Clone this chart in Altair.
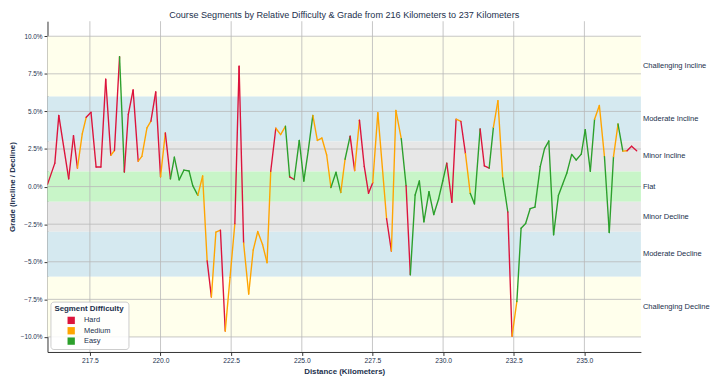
import altair as alt
import pandas as pd

# ---- data ----
distance_km = [
    216.00, 216.26, 216.40, 216.75, 216.92, 217.06, 217.23, 217.37, 217.54, 217.72,
    217.89, 218.06, 218.24, 218.37, 218.55, 218.72, 218.86, 219.03, 219.21, 219.34,
    219.52, 219.66, 219.83, 220.00, 220.17, 220.35, 220.49, 220.66, 220.83, 221.01,
    221.14, 221.32, 221.49, 221.65, 221.80, 221.96, 222.12, 222.29, 222.46, 222.63,
    222.78, 222.94, 223.12, 223.28, 223.44, 223.61, 223.77, 223.90, 224.08, 224.25,
    224.42, 224.57, 224.73, 224.91, 225.07, 225.23, 225.39, 225.55, 225.71, 225.88,
    226.03, 226.21, 226.38, 226.53, 226.71, 226.87, 227.04, 227.21, 227.36, 227.51,
    227.69, 228.00, 228.17, 228.33, 228.52, 228.69, 228.84, 229.01, 229.16, 229.32,
    229.50, 229.67, 229.84, 229.99, 230.13, 230.31, 230.46, 230.63, 230.79, 230.96,
    231.11, 231.31, 231.46, 231.63, 231.78, 231.94, 232.11, 232.29, 232.44, 232.61,
    232.76, 232.92, 233.08, 233.25, 233.44, 233.59, 233.74, 233.91, 234.08, 234.23,
    234.38, 234.55, 234.71, 234.89, 235.03, 235.21, 235.36, 235.53, 235.71, 235.88,
    236.03, 236.19, 236.36, 236.51, 236.67, 236.85,
]

grade_pct = [
    0.15, 1.56, 4.74, 0.52, 3.38, 1.23, 3.51, 4.61, 4.94, 1.30,
    1.30, 7.14, 2.08, 2.40, 8.64, 0.97, 4.81, 6.43, 1.69, 2.01,
    3.90, 4.35, 6.30, 0.65, 3.57, 0.52, 1.95, 0.45, 1.10, 1.04,
    0.06, -0.58, 0.71, -4.94, -7.34, -3.03, -2.90, -9.61, -6.04, -2.47,
    8.01, -3.75, -7.14, -4.22, -2.99, -3.85, -5.06, 1.02, 3.88, 3.46,
    4.01, 0.65, 0.47, 3.07, 0.37, 2.42, 4.74, 3.07, 3.23, 2.10,
    -0.06, 0.95, -0.39, 1.82, 3.36, 1.06, 4.42, 1.34, -0.44, 0.26,
    4.92, -2.14, -4.29, 5.06, 3.18, 0.06, -5.86, -0.56, 0.37, -2.34,
    -0.34, -1.86, -0.82, 0.39, 1.56, -1.04, 4.48, 4.33, 2.21, -0.45,
    -1.15, 3.83, 1.38, 1.23, 3.94, 5.71, 0.58, -1.69, -9.95, -7.64,
    -2.77, -2.45, -1.47, -1.36, 1.34, 2.53, 3.03, -3.20, -0.60, 0.15,
    0.91, 2.14, 1.77, 2.16, 3.79, 1.02, 4.48, 5.39, 1.99, -3.05,
    1.99, 4.16, 2.36, 2.38, 2.68, 2.38,
]

# difficulty of each segment (point i -> point i+1)
segment_difficulty = (
    "H H H H H M M H H H "
    "H H M H E H H H M M "
    "M H H M H E E E E E "
    "E M M H M M H M M H "
    "H M M M M M M H M M "
    "E H E E E E M M M M "
    "E E M E H M H H H M "
    "M H M M E H E E E E "
    "E E E E H H M H M E "
    "E H H E M M E H M E "
    "E E E E E E E E E E "
    "E E E E E E M M E E "
    "M E M H H"
).split()

difficulty_names = {"H": "Hard", "M": "Medium", "E": "Easy"}
difficulty_order = ["Hard", "Medium", "Easy"]
difficulty_colors = ["#DC143C", "#FFA500", "#2CA02C"]

band_names = ["Challenging Incline", "Moderate Incline", "Minor Incline", "Flat",
              "Minor Decline", "Moderate Decline", "Challenging Decline"]
band_low = [6, 3, 1, -1, -3, -6, -10]
band_high = [10, 6, 3, 1, -1, -3, -6]
band_label_grade = [8, 4.5, 2, 0, -2, -4.5, -8]
band_colors = ["#FFFFEC", "#D5E9F0", "#E7E7E7", "#C8F5C8",
               "#E7E7E7", "#D5E9F0", "#FFFFEC"]

x_ticks = [217.5, 220.0, 222.5, 225.0, 227.5, 230.0, 232.5, 235.0]
y_ticks = [-10, -7.5, -5, -2.5, 0, 2.5, 5, 7.5, 10]

# ---- build tables ----
seg = pd.DataFrame({
    "d0": distance_km[:-1],
    "d1": distance_km[1:],
    "g0": grade_pct[:-1],
    "g1": grade_pct[1:],
    "Segment Difficulty": [difficulty_names[s] for s in segment_difficulty],
})
bands = pd.DataFrame({"band": band_names, "lo": band_low, "hi": band_high,
                      "col": band_colors, "mid": band_label_grade})

FONT = "Liberation Sans"
TEXT = "#22304d"
W, H = 601, 335

xscale = alt.Scale(domain=[216, 237], nice=False, zero=False)
yscale = alt.Scale(domain=[-11, 11], nice=False, zero=False)

x_axis = alt.Axis(
    values=x_ticks, format=".1f", title="Distance (Kilometers)", grid=False,
    tickSize=3.5, tickColor="#333333", domainColor="#333333", domainWidth=1,
    labelFontSize=6.8, labelColor=TEXT, labelFont=FONT, labelPadding=2,
    titleFont=FONT, titleFontSize=8, titleFontWeight="bold", titleColor=TEXT,
    titlePadding=3)
y_axis = alt.Axis(
    values=y_ticks, labelExpr="format(datum.value, '.1f') + '%'",
    title="Grade (Incline / Decline)", grid=False,
    tickSize=3.5, tickColor="#333333", domainColor="#333333", domainWidth=1,
    labelFontSize=6.5, labelColor=TEXT, labelFont=FONT, labelPadding=2,
    titleFont=FONT, titleFontSize=8, titleFontWeight="bold", titleColor=TEXT,
    titlePadding=4)

band_layer = alt.Chart(bands).mark_rect().encode(
    y=alt.Y("lo:Q", scale=yscale, axis=y_axis),
    y2="hi:Q",
    fill=alt.Fill("col:N", scale=None),
)

xgrid = alt.Chart(pd.DataFrame({"v": x_ticks})).mark_rule(
    color="#b8b8b8", strokeWidth=0.8
).encode(x=alt.X("v:Q", scale=xscale, axis=x_axis))

ygrid = alt.Chart(pd.DataFrame({"v": y_ticks})).mark_rule(
    color="#b8b8b8", strokeWidth=0.8
).encode(y=alt.Y("v:Q", scale=yscale, axis=y_axis))

lines = alt.Chart(seg).mark_rule(strokeWidth=1.4, strokeCap="round", clip=True).encode(
    x=alt.X("d0:Q", scale=xscale, axis=x_axis),
    x2="d1:Q",
    y=alt.Y("g0:Q", scale=yscale, axis=y_axis),
    y2="g1:Q",
    stroke=alt.Stroke("Segment Difficulty:N",
                      scale=alt.Scale(domain=difficulty_order, range=difficulty_colors),
                      legend=None),
)

# invisible squares that only carry the legend
legend_layer = alt.Chart(seg).mark_square(filled=True, opacity=0, size=1).encode(
    x=alt.X("d0:Q", scale=xscale, axis=x_axis),
    y=alt.Y("g0:Q", scale=yscale, axis=y_axis),
    fill=alt.Fill("Segment Difficulty:N",
                  scale=alt.Scale(domain=difficulty_order, range=difficulty_colors),
                  sort=difficulty_order,
                  legend=alt.Legend(
                      title="Segment Difficulty", orient="bottom-left", offset=3,
                      titleFont=FONT, titleFontSize=8, titleFontWeight="bold",
                      titleColor=TEXT, labelFont=FONT, labelFontSize=7.5,
                      labelColor=TEXT, symbolType="square", symbolSize=55,
                      symbolOpacity=1, symbolStrokeWidth=0,
                      symbolOffset=13, labelOffset=9,
                      rowPadding=2.5, titlePadding=3, padding=4,
                      fillColor="rgba(255,255,255,0.85)", strokeColor="#cccccc",
                      cornerRadius=3)),
)

labels = alt.Chart(bands).mark_text(
    align="left", baseline="middle", font=FONT, fontSize=7.6, color=TEXT
).encode(
    x=alt.value(W + 2),
    y=alt.Y("mid:Q", scale=yscale, axis=y_axis),
    text="band:N",
)

chart = alt.layer(band_layer, xgrid, ygrid, lines, legend_layer, labels).properties(
    width=W, height=H,
    padding={"top": 0, "left": 0, "right": 2, "bottom": 2},
    title=alt.TitleParams(
        "Course Segments by Relative Difficulty & Grade from 216 Kilometers to 237 Kilometers",
        font=FONT, fontSize=9.2, fontWeight="normal", color=TEXT, anchor="middle",
        offset=1),
).resolve_scale(fill="independent").configure_view(stroke=None)

chart.save("out.html", embed_options={"renderer": "svg", "actions": False})
